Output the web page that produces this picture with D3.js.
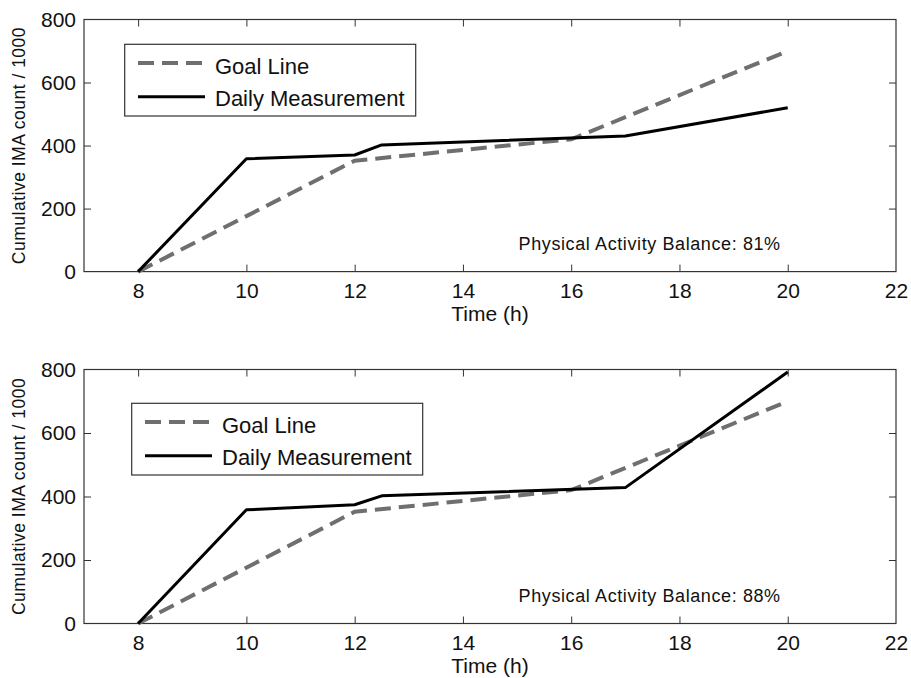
<!DOCTYPE html>
<html>
<head>
<meta charset="utf-8">
<script src="https://cdn.jsdelivr.net/npm/d3@7"></script>
<style>
  html, body { margin: 0; padding: 0; background: #fff; }
  svg { display: block; font-family: "Liberation Sans", Arial, Helvetica, sans-serif; }
</style>
</head>
<body>
<svg id="chart" width="911" height="678"></svg>
<script>
// Time points (hours) of the goal curve and of the measured cumulative counts
const goalHours = [8, 12, 16, 20];
const goalValues = [0, 352, 420, 700];

const dayHours = [8, 10, 12, 12.5, 17, 20];
const dayOneValues = [0, 358, 370, 402, 430, 520];
const dayTwoValues = [0, 358, 374, 402, 428, 792];

const balanceLabels = ["Physical Activity Balance: 81%", "Physical Activity Balance: 88%"];

const xTicks = [8, 10, 12, 14, 16, 18, 20, 22];
const yTicks = [0, 200, 400, 600, 800];

const legendLabels = ["Goal Line", "Daily Measurement"];

// Panel geometry
const panels = [
  { top: 19.5, bottom: 271.6, values: dayOneValues, label: balanceLabels[0], legend: { x: 124.7, y: 44.3 } },
  { top: 369.5, bottom: 623.5, values: dayTwoValues, label: balanceLabels[1], legend: { x: 131.7, y: 403.3 } }
];
const left = 84, right = 896;
const goalColor = "#6f6f6f";
const boxColor = "#333";
const textColor = "#111";

const svg = d3.select("#chart");

panels.forEach(p => {
  const x = d3.scaleLinear().domain([7, 22]).range([left, right]);
  const y = d3.scaleLinear().domain([0, 800]).range([p.bottom, p.top]);
  const g = svg.append("g");

  // Bottom axis with labels, ticks pointing inward
  const xAxis = g.append("g")
    .attr("transform", `translate(0,${p.bottom})`)
    .call(d3.axisBottom(x).tickValues(xTicks).tickSize(-7).tickPadding(11).tickFormat(d3.format("d")));
  // Top mirror ticks
  const xTop = g.append("g")
    .attr("transform", `translate(0,${p.top})`)
    .call(d3.axisTop(x).tickValues(xTicks.filter(t => t < 22)).tickSize(-7).tickFormat(""));
  // Left axis
  const yAxis = g.append("g")
    .attr("transform", `translate(${left},0)`)
    .call(d3.axisLeft(y).tickValues(yTicks).tickSize(-7).tickPadding(8).tickFormat(d3.format("d")));
  // Right mirror ticks
  const yRight = g.append("g")
    .attr("transform", `translate(${right},0)`)
    .call(d3.axisRight(y).tickValues(yTicks.filter(t => t > 0 && t < 800)).tickSize(-7).tickFormat(""));

  [xAxis, xTop, yAxis, yRight].forEach(a => {
    a.select(".domain").remove();
    a.selectAll(".tick line").attr("stroke", boxColor).attr("stroke-width", 1);
  });
  xAxis.selectAll(".tick").filter(d => d === 22).select("line").remove();
  yAxis.selectAll(".tick").filter(d => d === 0 || d === 800).select("line").remove();
  xAxis.selectAll(".tick").filter(d => d === 8).select("line").remove();

  xAxis.selectAll("text").attr("font-size", 21).attr("fill", textColor).attr("dy", "0.72em");
  yAxis.selectAll("text").attr("font-size", 21).attr("fill", textColor);

  // Axes box
  g.append("rect")
    .attr("x", left).attr("y", p.top)
    .attr("width", right - left).attr("height", p.bottom - p.top)
    .attr("fill", "none").attr("stroke", boxColor).attr("stroke-width", 1.2);

  const line = d3.line().x(d => x(d[0])).y(d => y(d[1]));

  // Goal curve (dashed grey)
  g.append("path")
    .datum(goalHours.map((h, i) => [h, goalValues[i]]))
    .attr("d", line)
    .attr("fill", "none")
    .attr("stroke", goalColor)
    .attr("stroke-width", 4)
    .attr("stroke-dasharray", "16,8");

  // Measured cumulative counts (solid black)
  g.append("path")
    .datum(dayHours.map((h, i) => [h, p.values[i]]))
    .attr("d", line)
    .attr("fill", "none")
    .attr("stroke", "#000")
    .attr("stroke-width", 3)
    .attr("stroke-linejoin", "round");

  // Axis titles
  g.append("text")
    .attr("x", (left + right) / 2).attr("y", p.bottom + 49.5)
    .attr("text-anchor", "middle")
    .attr("font-size", 21).attr("fill", textColor)
    .text("Time (h)");

  g.append("text")
    .attr("transform", `translate(25,${(p.top + p.bottom) / 2}) rotate(-90)`)
    .attr("text-anchor", "middle")
    .attr("font-size", 17.5).attr("letter-spacing", 0.5).attr("fill", textColor)
    .text("Cumulative IMA count / 1000");

  // Balance annotation
  g.append("text")
    .attr("x", x(20) - 7).attr("y", p.bottom - 22)
    .attr("text-anchor", "end")
    .attr("font-size", 18).attr("letter-spacing", 0.6).attr("fill", textColor)
    .text(p.label);

  // Legend
  const lg = g.append("g").attr("transform", `translate(${p.legend.x},${p.legend.y})`);
  lg.append("rect")
    .attr("width", 291).attr("height", 71.7)
    .attr("fill", "#fff").attr("stroke", boxColor).attr("stroke-width", 1.2);
  const rows = [
    { label: legendLabels[0], color: goalColor, w: 4, dash: "16,8", ly: 18.7, ty: 29.7 },
    { label: legendLabels[1], color: "#000", w: 3, dash: null, ly: 52.4, ty: 61.7 }
  ];
  rows.forEach(r => {
    lg.append("line")
      .attr("x1", 13.3).attr("x2", 80.3)
      .attr("y1", r.ly).attr("y2", r.ly)
      .attr("stroke", r.color).attr("stroke-width", r.w)
      .attr("stroke-dasharray", r.dash);
    lg.append("text")
      .attr("x", 90.3).attr("y", r.ty)
      .attr("font-size", 22).attr("fill", textColor)
      .text(r.label);
  });
});
</script>
</body>
</html>
